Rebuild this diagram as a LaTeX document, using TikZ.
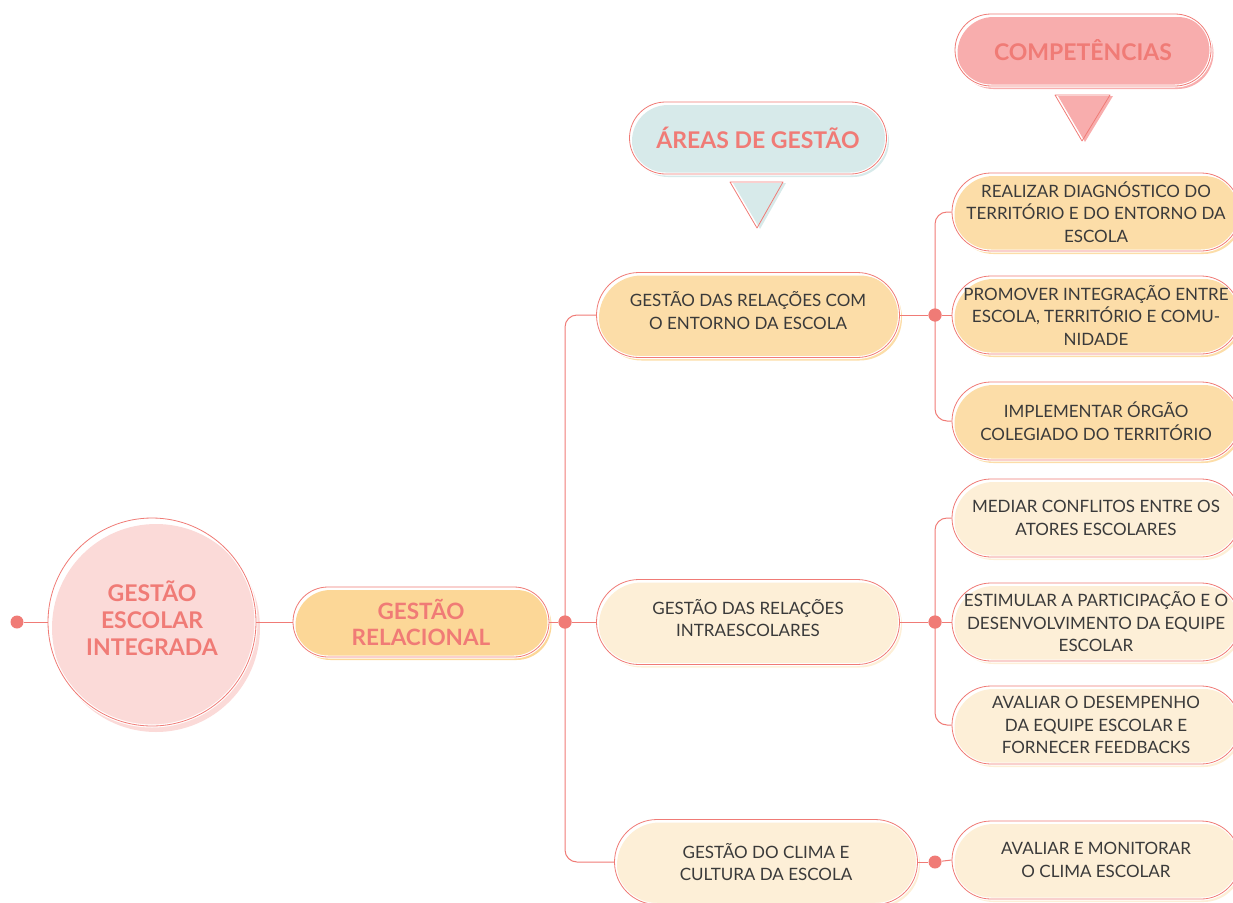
\documentclass[tikz,border=0pt]{standalone}
\usepackage{fontspec}
\setmainfont{Lato}
\usetikzlibrary{calc}
\definecolor{sal}{HTML}{F07B76}
\definecolor{txt}{HTML}{3A3A3A}
\definecolor{orangeA}{HTML}{FCD797}
\definecolor{orangeB}{HTML}{FCDDA8}
\definecolor{cream}{HTML}{FDEFD7}
\definecolor{teal}{HTML}{D7EAEA}
\definecolor{pinkA}{HTML}{F8ADAD}
\definecolor{pinkC}{HTML}{FBDAD8}
\tikzset{
  pill/.style={rectangle, draw=sal, line width=0.8pt, align=center, text=txt,
    font=\fontsize{17}{22.5}\selectfont, inner sep=0pt,
    preaction={fill=#1, transform canvas={shift={(2.5pt,-3pt)}}},
    preaction={draw=white, line width=3pt}},
  link/.style={draw=sal, line width=1pt, rounded corners=12pt},
  dot/.style={circle, fill=sal, minimum size=13pt, inner sep=0pt},
  title/.style={font=\fontsize{23}{27}\selectfont\bfseries, text=sal},
}
\begin{document}
\begin{tikzpicture}[x=1pt,y=-1pt]
\useasboundingbox (0,0) rectangle (1233,902);
\begin{scope}
\clip (0,0) rectangle (1233,902);
% root circle
\node[circle, draw=sal, line width=0.8pt, minimum size=208pt, inner sep=0pt, align=center,
  preaction={fill=pinkC, transform canvas={shift={(4pt,-6pt)}}},
  preaction={draw=white, line width=3pt},
  title] (root) at (152,622) {GESTÃO\\ESCOLAR\\INTEGRADA\\[-20pt]};
\node[dot] (d0) at (17,622) {};
% relacional
\node[pill=orangeA, minimum width=256pt, minimum height=70pt, rounded corners=35pt, title,
  font=\fontsize{22.5}{26}\selectfont\bfseries]
  (rel) at (421,622) {GESTÃO\\RELACIONAL};
\node[dot] (d1) at (565,622) {};
% areas
\node[pill=orangeB, minimum width=303pt, minimum height=85pt, rounded corners=42.5pt]
  (a1) at (748,315) {GESTÃO DAS RELAÇÕES COM\\O ENTORNO DA ESCOLA\\[-13pt]};
\node[pill=cream, minimum width=303pt, minimum height=85pt, rounded corners=42.5pt]
  (a2) at (748,622) {GESTÃO DAS RELAÇÕES\\INTRAESCOLARES\\[-14pt]};
\node[pill=cream, minimum width=303pt, minimum height=85pt, rounded corners=42.5pt]
  (a3) at (766,862) {GESTÃO DO CLIMA E\\CULTURA DA ESCOLA};
\node[dot] (e1) at (935,315) {};
\node[dot] (e2) at (935,622) {};
\node[dot] (e3) at (935,862) {};
% competencies
\node[pill=orangeB, minimum width=288pt, minimum height=78pt, rounded corners=39pt]
  (c1) at (1096,212) {REALIZAR DIAGNÓSTICO DO\\TERRITÓRIO E DO ENTORNO DA\\ESCOLA};
\node[pill=orangeB, minimum width=288pt, minimum height=78pt, rounded corners=39pt]
  (c2) at (1096,315) {PROMOVER INTEGRAÇÃO ENTRE\\ESCOLA, TERRITÓRIO E COMU-\\NIDADE};
\node[pill=orangeB, minimum width=288pt, minimum height=78pt, rounded corners=39pt]
  (c3) at (1096,421) {IMPLEMENTAR ÓRGÃO\\COLEGIADO DO TERRITÓRIO};
\node[pill=cream, minimum width=288pt, minimum height=78pt, rounded corners=39pt]
  (c4) at (1096,518) {MEDIAR CONFLITOS ENTRE OS\\ATORES ESCOLARES};
\node[pill=cream, minimum width=288pt, minimum height=78pt, rounded corners=39pt]
  (c5) at (1096,622) {ESTIMULAR A PARTICIPAÇÃO E O\\DESENVOLVIMENTO DA EQUIPE\\ESCOLAR};
\node[pill=cream, minimum width=288pt, minimum height=78pt, rounded corners=39pt]
  (c6) at (1096,725) {AVALIAR O DESEMPENHO\\DA EQUIPE ESCOLAR E\\FORNECER FEEDBACKS};
\node[pill=cream, minimum width=288pt, minimum height=78pt, rounded corners=39pt]
  (c7) at (1096,860) {AVALIAR E MONITORAR\\O CLIMA ESCOLAR};
% headers
\node[pill=teal, minimum width=257pt, minimum height=72pt, rounded corners=36pt, title]
  (h1) at (758,138) {ÁREAS DE GESTÃO};
\node[pill=pinkA, minimum width=256pt, minimum height=72pt, rounded corners=36pt, title]
  (h2) at (1083,50) {COMPETÊNCIAS};
\coordinate (t1a) at (730,182); \coordinate (t1b) at (783,182); \coordinate (t1c) at (757,228);
\coordinate (t2a) at (1055,95); \coordinate (t2b) at (1110,95); \coordinate (t2c) at (1082,141);
\fill[teal, transform canvas={shift={(3pt,-1pt)}}] (t1a) -- (t1b) -- (t1c) -- cycle;
\draw[sal, line width=0.8pt, line join=round] (t1a) -- (t1b) -- (t1c) -- cycle;
\fill[pinkA, transform canvas={shift={(3pt,-1pt)}}] (t2a) -- (t2b) -- (t2c) -- cycle;
\draw[sal, line width=0.8pt, line join=round] (t2a) -- (t2b) -- (t2c) -- cycle;
% connectors
\draw[link] (d0) -- (root.west);
\draw[link] (root.east) -- (rel.west);
\draw[link] (rel.east) -- (d1);
\draw[link] (d1) -- (a2.west);
\draw[link] (d1.center) |- (a1.west);
\draw[link] (d1.center) |- (a3.west);
\draw[link] (a1.east) -- (e1);
\draw[link] (e1) -- (c2.west);
\draw[link] (e1.center) |- (c1.west);
\draw[link] (e1.center) |- (c3.west);
\draw[link] (a2.east) -- (e2);
\draw[link] (e2) -- (c5.west);
\draw[link] (e2.center) |- (c4.west);
\draw[link] (e2.center) |- (c6.west);
\draw[link] (a3.east) -- (e3);
\draw[link] (e3) -- (c7.west);
\node[dot] at (d1) {}; \node[dot] at (e1) {}; \node[dot] at (e2) {};
\end{scope}
\end{tikzpicture}
\end{document}
